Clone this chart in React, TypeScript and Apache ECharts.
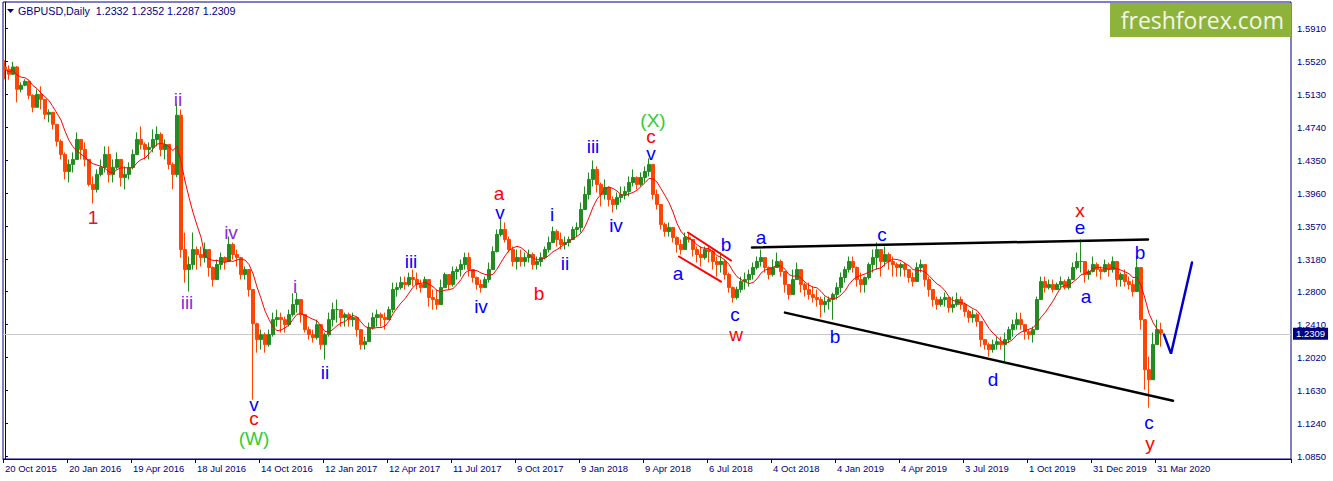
import React, { useEffect, useRef } from "react";
import * as echarts from "echarts";

// ---- data (GBPUSD, one bar = 4 trading days) ----
const firstOpen = 1.545;
const closes = [
  1.5423, 1.5364, 1.545, 1.5186, 1.5234, 1.5281, 1.5115, 1.4974, 1.5127, 1.5068,
  1.4891, 1.4915, 1.4773, 1.4572, 1.4418, 1.4217, 1.43, 1.4359, 1.4595, 1.4477,
  1.4359, 1.4064, 1.4005, 1.4182, 1.4265, 1.4418, 1.4182, 1.4265, 1.4359, 1.4146,
  1.4182, 1.4265, 1.4418, 1.4595, 1.4536, 1.4477, 1.4501, 1.4595, 1.4655, 1.4477,
  1.4536, 1.43, 1.4182, 1.488, 1.3295, 1.3059, 1.3118, 1.3295, 1.3236, 1.3201,
  1.3295, 1.3083, 1.2941, 1.3118, 1.3201, 1.3154, 1.3355, 1.3236, 1.3201, 1.3,
  1.3059, 1.2823, 1.242, 1.2232, 1.2291, 1.2173, 1.2291, 1.2468, 1.2492, 1.2468,
  1.2409, 1.2527, 1.2646, 1.2705, 1.2527, 1.235, 1.2291, 1.2256, 1.2409, 1.2173,
  1.2291, 1.2468, 1.2586, 1.2586, 1.2492, 1.2527, 1.2468, 1.2492, 1.235, 1.2173,
  1.2208, 1.2374, 1.2492, 1.2527, 1.2492, 1.2468, 1.2586, 1.2823, 1.2846, 1.2905,
  1.2882, 1.2965, 1.2941, 1.2882, 1.2846, 1.2941, 1.2728, 1.2705, 1.2646, 1.2846,
  1.3, 1.2882, 1.3036, 1.3059, 1.3118, 1.3201, 1.3059, 1.2965, 1.2882, 1.2846,
  1.2941, 1.3059, 1.3272, 1.3473, 1.3532, 1.3414, 1.3295, 1.3154, 1.3201, 1.3154,
  1.3201, 1.3236, 1.3118, 1.3154, 1.3201, 1.3295, 1.3378, 1.3508, 1.3414, 1.3355,
  1.3378, 1.3414, 1.3532, 1.3556, 1.3768, 1.3945, 1.4123, 1.4241, 1.4064, 1.3945,
  1.4028, 1.3886, 1.3827, 1.391, 1.3945, 1.3981, 1.4087, 1.4146, 1.4064, 1.4146,
  1.4217, 1.43, 1.3945, 1.3827, 1.3591, 1.3508, 1.3556, 1.3437, 1.3355, 1.3295,
  1.3437, 1.3414, 1.3295, 1.3236, 1.3201, 1.3295, 1.3272, 1.3154, 1.3118, 1.3154,
  1.3, 1.2846, 1.2728, 1.2823, 1.2917, 1.2941, 1.3, 1.3083, 1.3154, 1.3201,
  1.3083, 1.3, 1.3083, 1.3154, 1.3036, 1.2882, 1.2764, 1.2941, 1.3059, 1.2882,
  1.2823, 1.2764, 1.2728, 1.2705, 1.2646, 1.2681, 1.2705, 1.2764, 1.2846, 1.2965,
  1.3059, 1.3154, 1.3083, 1.2941, 1.2882, 1.2965, 1.3118, 1.3201, 1.3295, 1.3154,
  1.3236, 1.3154, 1.3118, 1.3083, 1.3118, 1.3059, 1.2965, 1.2917, 1.3083, 1.3118,
  1.2941, 1.2823, 1.2705, 1.2646, 1.2705, 1.2728, 1.261, 1.2646, 1.2705, 1.2646,
  1.2563, 1.2492, 1.2527, 1.2445, 1.2232, 1.2173, 1.2114, 1.2173, 1.2208, 1.2173,
  1.2232, 1.235, 1.2409, 1.2468, 1.2409, 1.2326, 1.2291, 1.235, 1.2705, 1.2917,
  1.2846, 1.2882, 1.2823, 1.2882, 1.2917, 1.2846, 1.2941, 1.3083, 1.3154, 1.3154,
  1.3, 1.3036, 1.3118, 1.3059, 1.3036, 1.3118, 1.3059, 1.3154, 1.2941, 1.3,
  1.2917, 1.2882, 1.2799, 1.3083, 1.2468, 1.1877, 1.1759, 1.2173, 1.235, 1.2309,
];
const highs = [
  1.5529, 1.547, 1.551, 1.546, 1.5269, 1.5305, 1.529, 1.5127, 1.5186, 1.5222,
  1.5033, 1.495, 1.4915, 1.4714, 1.4595, 1.4442, 1.4359, 1.4442, 1.4678, 1.4595,
  1.456, 1.4359, 1.4158, 1.4241, 1.4359, 1.4513, 1.4513, 1.4359, 1.4442, 1.4359,
  1.4276, 1.4324, 1.4477, 1.4678, 1.4749, 1.456, 1.456, 1.4714, 1.4749, 1.4678,
  1.4595, 1.4477, 1.4324, 1.5018, 1.495, 1.3496, 1.3213, 1.3496, 1.3331, 1.3331,
  1.3378, 1.3213, 1.3095, 1.3177, 1.326, 1.3213, 1.3449, 1.3378, 1.3295, 1.3142,
  1.3095, 1.3024, 1.2787, 1.2433, 1.235, 1.2315, 1.235, 1.2551, 1.2586, 1.2551,
  1.2504, 1.2586, 1.278, 1.2787, 1.2705, 1.2504, 1.2386, 1.235, 1.2468, 1.2386,
  1.2315, 1.2551, 1.2669, 1.2705, 1.2586, 1.2551, 1.2551, 1.2551, 1.2468, 1.2315,
  1.2267, 1.2433, 1.2551, 1.2586, 1.2551, 1.2551, 1.2622, 1.2905, 1.2905, 1.2976,
  1.2976, 1.3024, 1.3059, 1.3024, 1.2941, 1.2976, 1.2858, 1.2823, 1.2823, 1.2941,
  1.3024, 1.2976, 1.3095, 1.3095, 1.3177, 1.326, 1.326, 1.3059, 1.2976, 1.2941,
  1.2976, 1.3142, 1.3331, 1.3532, 1.366, 1.3615, 1.3449, 1.3331, 1.3295, 1.3295,
  1.326, 1.3295, 1.326, 1.3213, 1.326, 1.3331, 1.3449, 1.3567, 1.3532, 1.3496,
  1.3449, 1.3449, 1.3567, 1.3615, 1.3851, 1.404, 1.4205, 1.4347, 1.4276, 1.4087,
  1.4123, 1.404, 1.3922, 1.3969, 1.404, 1.404, 1.4158, 1.4241, 1.4158, 1.4205,
  1.4276, 1.4371, 1.4205, 1.4005, 1.3804, 1.3615, 1.3615, 1.3532, 1.3449, 1.3414,
  1.3496, 1.3496, 1.3414, 1.3331, 1.3331, 1.3331, 1.3331, 1.3295, 1.3213, 1.326,
  1.3177, 1.3024, 1.2858, 1.2858, 1.2976, 1.3024, 1.3059, 1.3142, 1.3213, 1.3295,
  1.3177, 1.3095, 1.3177, 1.326, 1.3177, 1.3024, 1.2858, 1.3059, 1.3142, 1.3024,
  1.2905, 1.2905, 1.2858, 1.2823, 1.274, 1.274, 1.274, 1.2787, 1.2905, 1.3024,
  1.3095, 1.3213, 1.3213, 1.3095, 1.3024, 1.2976, 1.3142, 1.3295, 1.3378, 1.3295,
  1.3331, 1.326, 1.3213, 1.3142, 1.3142, 1.3142, 1.3059, 1.3024, 1.3142, 1.3177,
  1.3059, 1.2976, 1.2823, 1.274, 1.274, 1.2787, 1.274, 1.274, 1.2787, 1.274,
  1.2669, 1.2586, 1.2586, 1.2551, 1.2386, 1.2232, 1.2197, 1.2232, 1.2267, 1.2267,
  1.2315, 1.2386, 1.2468, 1.2551, 1.2551, 1.2386, 1.235, 1.2386, 1.274, 1.2976,
  1.2976, 1.2941, 1.2941, 1.2905, 1.2976, 1.2941, 1.2976, 1.3142, 1.326, 1.3414,
  1.3142, 1.3059, 1.3213, 1.3142, 1.3095, 1.3177, 1.3142, 1.3213, 1.3059, 1.3024,
  1.3059, 1.2976, 1.2941, 1.3213, 1.3024, 1.2433, 1.2031, 1.2315, 1.2468, 1.2433,
];
const lows = [
  1.5305, 1.53, 1.536, 1.5033, 1.5151, 1.5222, 1.5068, 1.4915, 1.4985, 1.495,
  1.4832, 1.4796, 1.4714, 1.4513, 1.4359, 1.4123, 1.4087, 1.4205, 1.4395, 1.4359,
  1.4276, 1.404, 1.3839, 1.3969, 1.4158, 1.4205, 1.4087, 1.4087, 1.4241, 1.404,
  1.4005, 1.4123, 1.4241, 1.4442, 1.4477, 1.4359, 1.4359, 1.4442, 1.4513, 1.4395,
  1.4359, 1.4241, 1.4005, 1.415, 1.32, 1.2905, 1.2799, 1.3059, 1.3059, 1.3095,
  1.3142, 1.2976, 1.2858, 1.2941, 1.3059, 1.3059, 1.3213, 1.3177, 1.3095, 1.2941,
  1.2941, 1.274, 1.1523, 1.2078, 1.2114, 1.2078, 1.2149, 1.2267, 1.2386, 1.2315,
  1.2315, 1.2386, 1.2504, 1.2551, 1.2433, 1.2315, 1.2232, 1.2197, 1.2232, 1.2114,
  1.1996, 1.2267, 1.2386, 1.2433, 1.2386, 1.2386, 1.2386, 1.2386, 1.2267, 1.2114,
  1.2114, 1.2232, 1.235, 1.2386, 1.2386, 1.235, 1.2468, 1.2551, 1.274, 1.2823,
  1.2823, 1.2858, 1.2858, 1.2823, 1.2787, 1.2858, 1.2622, 1.2586, 1.2586, 1.2705,
  1.2858, 1.2823, 1.2858, 1.2941, 1.2976, 1.3059, 1.2976, 1.2905, 1.2823, 1.2787,
  1.2858, 1.2905, 1.3095, 1.326, 1.3449, 1.3378, 1.326, 1.3095, 1.3059, 1.3095,
  1.3095, 1.3142, 1.3059, 1.3059, 1.3095, 1.3177, 1.326, 1.3378, 1.3331, 1.3295,
  1.3295, 1.3331, 1.3414, 1.3449, 1.3496, 1.3768, 1.3886, 1.404, 1.3969, 1.3804,
  1.3886, 1.3804, 1.3733, 1.3768, 1.3851, 1.3886, 1.3922, 1.404, 1.4005, 1.404,
  1.4087, 1.4158, 1.3886, 1.3768, 1.3532, 1.3449, 1.3449, 1.3378, 1.326, 1.3236,
  1.3331, 1.3378, 1.3213, 1.3142, 1.3095, 1.3177, 1.3142, 1.3059, 1.2976, 1.3024,
  1.2941, 1.2787, 1.2669, 1.2705, 1.2787, 1.2823, 1.2858, 1.2941, 1.3059, 1.3095,
  1.3024, 1.2941, 1.2976, 1.3095, 1.2976, 1.2787, 1.2705, 1.2858, 1.2941, 1.2787,
  1.274, 1.2705, 1.2669, 1.2622, 1.2492, 1.2551, 1.2586, 1.2468, 1.2705, 1.2787,
  1.2905, 1.3024, 1.3024, 1.2858, 1.2787, 1.2787, 1.2941, 1.3024, 1.3059, 1.2976,
  1.3095, 1.3059, 1.2976, 1.2976, 1.2976, 1.2976, 1.2905, 1.2858, 1.2976, 1.3024,
  1.2858, 1.274, 1.2622, 1.2586, 1.2622, 1.2622, 1.2551, 1.2551, 1.2622, 1.2586,
  1.2504, 1.2433, 1.2433, 1.2386, 1.2149, 1.2114, 1.2031, 1.2078, 1.2114, 1.2114,
  1.1972, 1.2197, 1.2267, 1.235, 1.235, 1.2232, 1.2232, 1.2197, 1.2433, 1.274,
  1.2787, 1.2823, 1.2787, 1.2823, 1.2823, 1.2823, 1.2823, 1.2941, 1.3059, 1.3024,
  1.2905, 1.2941, 1.3024, 1.2976, 1.2941, 1.3024, 1.2976, 1.3024, 1.2858, 1.2858,
  1.2858, 1.2823, 1.274, 1.2905, 1.235, 1.1641, 1.1428, 1.1795, 1.2197, 1.2149,
];
const tickDates = [
  "20 Oct 2015", "20 Jan 2016", "19 Apr 2016", "18 Jul 2016", "14 Oct 2016",
  "12 Jan 2017", "12 Apr 2017", "11 Jul 2017", "9 Oct 2017", "9 Jan 2018",
  "9 Apr 2018", "6 Jul 2018", "4 Oct 2018", "4 Jan 2019", "4 Apr 2019",
  "3 Jul 2019", "1 Oct 2019", "31 Dec 2019", "31 Mar 2020",
];
const priceTicks = [
  1.591, 1.552, 1.513, 1.474, 1.435, 1.396, 1.357, 1.318, 1.28, 1.241, 1.202,
  1.163, 1.124, 1.085,
];
const symbolName = "GBPUSD,Daily";
const lastDayOHLC = [1.2332, 1.2352, 1.2287, 1.2309];
const lastPrice = 1.2309;

// wave labels: [text, bar position, price, colour kind]
const waveLabels: [string, number, number, string][] = [
  ["1", 22, 1.3674, "crimson"],
  ["ii", 43.25, 1.5068, "violet"],
  ["iii", 45.5, 1.2669, "violet"],
  ["iv", 56.5, 1.3496, "violet"],
  ["v", 62.25, 1.1467, "blue"],
  ["c", 62.25, 1.1303, "red"],
  ["(W)", 62.25, 1.1066, "green"],
  ["i", 72.5, 1.2858, "violet"],
  ["ii", 80, 1.1842, "blue"],
  ["iii", 101.5, 1.3154, "blue"],
  ["iv", 119, 1.2622, "blue"],
  ["a", 123.5, 1.3962, "red"],
  ["v", 123.75, 1.3735, "blue"],
  ["b", 133.5, 1.2776, "red"],
  ["i", 136.75, 1.3709, "blue"],
  ["ii", 140, 1.313, "blue"],
  ["iii", 147, 1.4513, "blue"],
  ["iv", 152.75, 1.3579, "blue"],
  ["(X)", 162, 1.4818, "green"],
  ["c", 161.5, 1.4628, "red"],
  ["v", 161.5, 1.4428, "blue"],
  ["a", 168.25, 1.3012, "blue"],
  ["b", 180.25, 1.3355, "blue"],
  ["c", 182.5, 1.2531, "blue"],
  ["w", 182.75, 1.2288, "red"],
  ["a", 189, 1.3437, "blue"],
  ["b", 207.5, 1.2267, "blue"],
  ["c", 219.25, 1.3473, "blue"],
  ["d", 247, 1.1759, "blue"],
  ["x", 268.75, 1.3753, "red"],
  ["e", 268.75, 1.3552, "blue"],
  ["a", 270.25, 1.274, "blue"],
  ["b", 283.75, 1.326, "blue"],
  ["c", 286, 1.1254, "blue"],
  ["y", 286.25, 1.1011, "red"],
];

// drawn lines: [kind, [[bar, price], ...]]
const drawnLines: [string, number[][]][] = [
  ["black", [[186.75, 1.3319], [285.75, 1.3414]]],
  ["black", [[195, 1.2551], [292, 1.1511]]],
  ["red", [[170.75, 1.3496], [181.5, 1.3166]]],
  ["red", [[168.5, 1.3213], [179, 1.2917]]],
  ["forecast", [[289.75, 1.2291], [291.5, 1.2066], [296.75, 1.3142]]],
];

const TOTAL_SLOTS = 322;
const DAYS_PER_LABEL = 16;
const MA_PERIOD = 7;

const labelColors: Record<string, string> = {
  crimson: "#dc143c",
  violet: "#8a2be2",
  blue: "#0000ff",
  red: "#ff0000",
  green: "#32cd32",
};
const lineStyles: Record<string, any> = {
  black: { color: "#000000", width: 2.5 },
  red: { color: "#ff0000", width: 2 },
  forecast: { color: "#0000cd", width: 2.5 },
};

function buildOption() {
  const categories = Array.from({ length: TOTAL_SLOTS }, (_, i) => String(i));
  const candles = closes.map((c, i) => {
    const o = i === 0 ? firstOpen : closes[i - 1];
    const h = Math.max(highs[i], o, c);
    const l = Math.min(lows[i], o, c);
    return [o, c, l, h];
  });
  const ma = closes.map((_, i) => {
    const s = Math.max(0, i - MA_PERIOD + 1);
    let sum = 0;
    for (let k = s; k <= i; k++) sum += closes[k];
    return +(sum / (i - s + 1)).toFixed(4);
  });
  const showTick = (i: number) =>
    i % DAYS_PER_LABEL === 0 && i / DAYS_PER_LABEL < tickDates.length;
  const font = "'Liberation Sans', Arial, sans-serif";

  const lineSeries = drawnLines.map(([kind, pts]) => ({
    type: "line",
    xAxisIndex: 1,
    yAxisIndex: 0,
    data: pts,
    symbol: "none",
    silent: true,
    z: 6,
    lineStyle: { ...lineStyles[kind], cap: "round" },
  }));

  return {
    animation: false,
    backgroundColor: "#ffffff",
    grid: {
      left: 3,
      top: 2,
      right: 42,
      bottom: 22,
      show: true,
      borderColor: "#000080",
      borderWidth: 1,
      backgroundColor: "#ffffff",
    },
    xAxis: [
      {
        type: "category",
        data: categories,
        boundaryGap: true,
        axisLine: { show: true, lineStyle: { color: "#000080", width: 1 } },
        axisTick: {
          show: true,
          length: 4,
          interval: (i: number) => showTick(i),
          lineStyle: { color: "#000080" },
        },
        axisLabel: {
          show: true,
          interval: (i: number) => showTick(i),
          formatter: (_v: string, i: number) =>
            showTick(i) ? tickDates[i / DAYS_PER_LABEL] : "",
          color: "#000080",
          fontSize: 9.5,
          fontFamily: font,
          align: "left",
          margin: 4,
        },
        splitLine: { show: false },
      },
      {
        type: "value",
        min: -0.5,
        max: TOTAL_SLOTS - 0.5,
        show: false,
      },
    ],
    yAxis: {
      type: "value",
      position: "right",
      min: 1.0823,
      max: 1.6217,
      axisLine: { show: true, lineStyle: { color: "#000080", width: 1 } },
      axisTick: {
        show: true,
        length: 3,
        customValues: priceTicks,
        lineStyle: { color: "#000080" },
      },
      axisLabel: {
        show: true,
        customValues: priceTicks,
        formatter: (v: number) => v.toFixed(4),
        color: "#000080",
        fontSize: 9.5,
        fontFamily: font,
        margin: 6,
      },
      splitLine: { show: false },
    },
    series: [
      {
        type: "candlestick",
        data: candles,
        barWidth: 3,
        z: 2,
        itemStyle: {
          color: "#228b22",
          color0: "#ff4500",
          borderColor: "#228b22",
          borderColor0: "#ff4500",
          borderWidth: 1,
        },
        markLine: {
          silent: true,
          symbol: "none",
          data: [{ yAxis: lastPrice }],
          lineStyle: { color: "#c8c8c8", width: 1, type: "solid" },
          label: {
            show: true,
            position: "end",
            distance: 2,
            formatter: lastPrice.toFixed(4),
            color: "#ffffff",
            backgroundColor: "#000080",
            padding: [1, 3, 1, 3],
            fontSize: 9.5,
            fontFamily: font,
          },
          z: 1,
        },
      },
      {
        type: "line",
        data: ma,
        symbol: "none",
        z: 4,
        silent: true,
        lineStyle: { color: "#ff0000", width: 1 },
      },
      ...lineSeries,
      {
        type: "scatter",
        xAxisIndex: 1,
        yAxisIndex: 0,
        symbolSize: 1,
        silent: true,
        z: 8,
        itemStyle: { color: "rgba(0,0,0,0)" },
        data: waveLabels.map(([t, x, p, k]) => ({
          value: [x, p],
          label: {
            show: true,
            position: "inside",
            formatter: t,
            color: labelColors[k],
            opacity: 1,
            fontSize: 19,
            lineHeight: 13,
            fontFamily: font,
          },
        })),
      },
    ],
    graphic: [
      {
        type: "polygon",
        shape: { points: [[7, 9], [14, 9], [10.5, 13]] },
        style: { fill: "#000080" },
        z: 100,
      },
      {
        type: "text",
        x: 18,
        y: 11,
        style: {
          text: `${symbolName}  ${lastDayOHLC.map((v) => v.toFixed(4)).join(" ")}`,
          fill: "#000080",
          font: `10.7px ${font}`,
          verticalAlign: "middle",
        },
        z: 100,
      },
      {
        type: "rect",
        shape: { x: 1110, y: 3, width: 181, height: 34 },
        style: { fill: "#8db33b" },
        z: 100,
      },
      {
        type: "text",
        x: 1284,
        y: 20,
        style: {
          text: "freshforex.com",
          fill: "#f4f6e8",
          font: "23px 'Open Sans', sans-serif",
          align: "right",
          verticalAlign: "middle",
        },
        z: 101,
      },
    ],
  };
}

export default function App() {
  const ref = useRef<HTMLDivElement>(null);
  useEffect(() => {
    const chart = echarts.init(ref.current as HTMLDivElement, null, {
      renderer: "svg",
    });
    chart.setOption(buildOption() as any);
    return () => chart.dispose();
  }, []);
  return (
    <div
      ref={ref}
      style={{
        position: "absolute",
        left: 0,
        top: 0,
        width: 1333,
        height: 481,
        background: "#ffffff",
      }}
    />
  );
}
